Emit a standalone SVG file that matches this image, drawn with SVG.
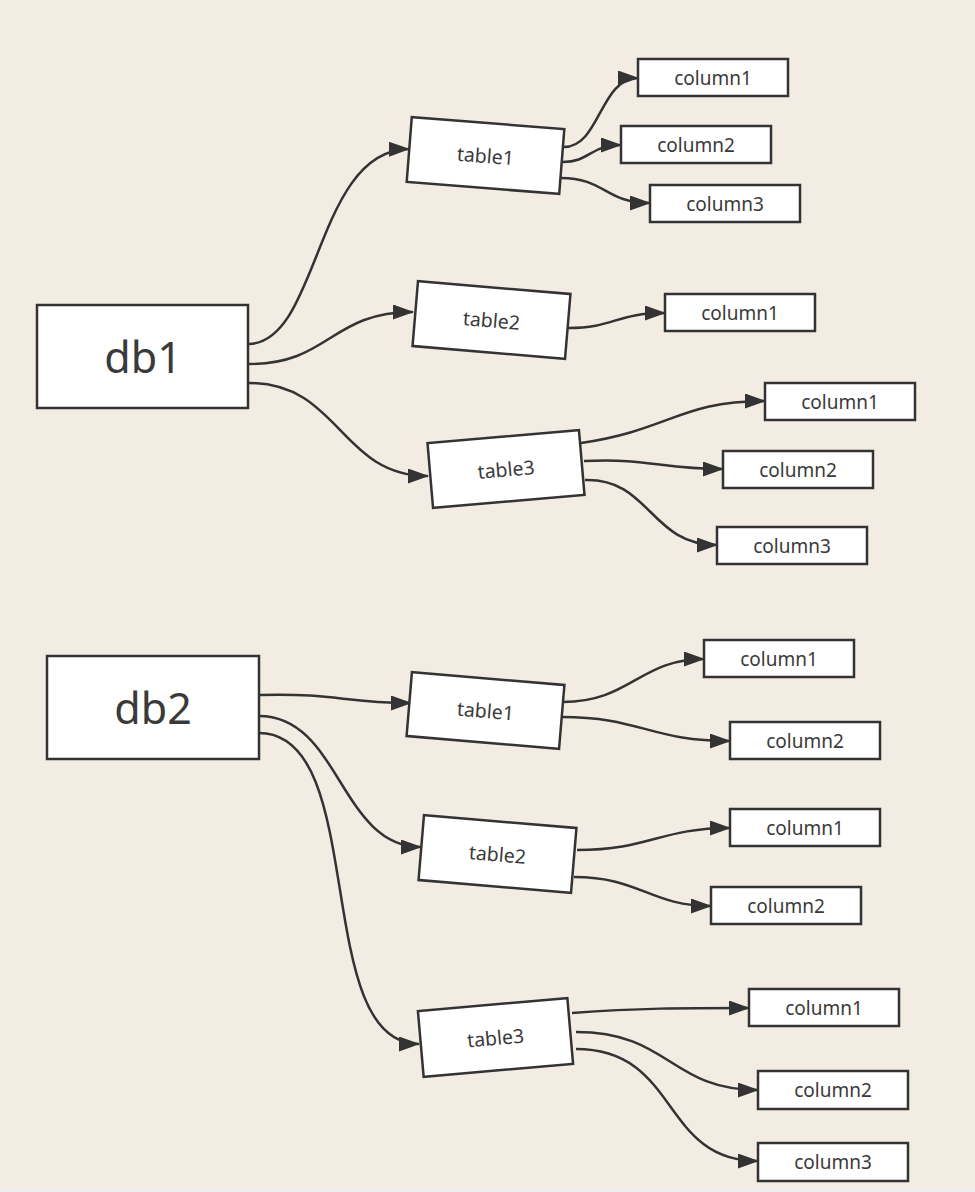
<svg xmlns="http://www.w3.org/2000/svg" width="975" height="1192" viewBox="0 0 975 1192">
<style>
.box{fill:#fff;stroke:#333;stroke-width:2.5}
.t{font-family:"Noto Sans","Open Sans","Liberation Sans",sans-serif;fill:#3a3a3a;text-anchor:middle;dominant-baseline:central}
.c{font-size:19px}
.tb{font-size:19.5px}
.db{font-size:43px}
.e{fill:none;stroke:#333;stroke-width:2.5;marker-end:url(#arr)}
</style>
<defs>
<marker id="arr" markerUnits="userSpaceOnUse" markerWidth="21" markerHeight="15" refX="20" refY="7.5" orient="auto">
<path d="M0,0 L21,7.5 L0,15 Z" fill="#333"/>
</marker>
</defs>
<rect width="975" height="1192" fill="#F3ECE3"/>
<rect x="0" y="1188" width="975" height="4" fill="#EDEEEF"/>
<g id="connectors">
<path class="e" d="M249,344 C320,342 315,150 409,149"/>
<path class="e" d="M249,364 C330,364 330,312 413,312"/>
<path class="e" d="M249,383 C340,383 340,476 428,476"/>
<path class="e" d="M564,147 C600,147 600,78 638,78"/>
<path class="e" d="M563,162 C590,162 590,145 621,145"/>
<path class="e" d="M561,178 C605,178 605,203 650,203"/>
<path class="e" d="M568,328 C615,328 615,313 665,313"/>
<path class="e" d="M581,443 C670,430 680,401 765,401"/>
<path class="e" d="M584,461 C650,458 660,469 723,469"/>
<path class="e" d="M585,480 C650,478 650,545 717,545"/>
<path class="e" d="M259,695 C340,693 340,703 411,703"/>
<path class="e" d="M259,716 C340,716 340,847 421,847"/>
<path class="e" d="M259,733 C370,733 310,1044 419,1044"/>
<path class="e" d="M563,702 C630,702 640,659 704,659"/>
<path class="e" d="M562,717 C640,717 650,741 730,741"/>
<path class="e" d="M577,850 C650,850 660,828 730,828"/>
<path class="e" d="M574,877 C640,877 650,906 711,906"/>
<path class="e" d="M572,1013 C640,1008 680,1008 749,1008"/>
<path class="e" d="M576,1032 C670,1032 670,1090 758,1090"/>
<path class="e" d="M576,1049 C680,1049 660,1161 758,1161"/>
</g>
<g id="db1"><rect class="box" x="37" y="305" width="211" height="103"/><text class="t db" x="143" y="356">db1</text></g>
<g id="db2"><rect class="box" x="47" y="656" width="212" height="103"/><text class="t db" x="153" y="707">db2</text></g>
<g id="db1_table1" transform="translate(485.5,155.5) rotate(4.5)"><rect class="box" x="-76.5" y="-32.5" width="153" height="65"/><text class="t tb" x="0" y="0">table1</text></g>
<g id="db1_table2" transform="translate(491.5,320) rotate(4.8)"><rect class="box" x="-76.5" y="-32.5" width="153" height="65"/><text class="t tb" x="0" y="0">table2</text></g>
<g id="db1_table3" transform="translate(506,469) rotate(-4.9)"><rect class="box" x="-76" y="-32.5" width="152" height="65"/><text class="t tb" x="0" y="0">table3</text></g>
<g id="db2_table1" transform="translate(485.5,710.5) rotate(4.8)"><rect class="box" x="-76.5" y="-32" width="153" height="64"/><text class="t tb" x="0" y="0">table1</text></g>
<g id="db2_table2" transform="translate(497.5,854) rotate(4.8)"><rect class="box" x="-76.5" y="-32.5" width="153" height="65"/><text class="t tb" x="0" y="0">table2</text></g>
<g id="db2_table3" transform="translate(495.5,1037.5) rotate(-5)"><rect class="box" x="-75" y="-33" width="150" height="66"/><text class="t tb" x="0" y="0">table3</text></g>
<g id="db1_t1_c1"><rect class="box" x="638" y="59" width="150" height="37"/><text class="t c" x="713" y="77.5">column1</text></g>
<g id="db1_t1_c2"><rect class="box" x="621" y="126" width="150" height="37"/><text class="t c" x="696" y="144.5">column2</text></g>
<g id="db1_t1_c3"><rect class="box" x="650" y="185" width="150" height="37"/><text class="t c" x="725" y="203.5">column3</text></g>
<g id="db1_t2_c1"><rect class="box" x="665" y="294" width="150" height="37"/><text class="t c" x="740" y="312.5">column1</text></g>
<g id="db1_t3_c1"><rect class="box" x="765" y="383" width="150" height="37"/><text class="t c" x="840" y="401.5">column1</text></g>
<g id="db1_t3_c2"><rect class="box" x="723" y="451" width="150" height="37"/><text class="t c" x="798" y="469.5">column2</text></g>
<g id="db1_t3_c3"><rect class="box" x="717" y="527" width="150" height="37"/><text class="t c" x="792" y="545.5">column3</text></g>
<g id="db2_t1_c1"><rect class="box" x="704" y="640" width="150" height="37"/><text class="t c" x="779" y="658.5">column1</text></g>
<g id="db2_t1_c2"><rect class="box" x="730" y="722" width="150" height="37"/><text class="t c" x="805" y="740.5">column2</text></g>
<g id="db2_t2_c1"><rect class="box" x="730" y="809" width="150" height="37"/><text class="t c" x="805" y="827.5">column1</text></g>
<g id="db2_t2_c2"><rect class="box" x="711" y="887" width="150" height="37"/><text class="t c" x="786" y="905.5">column2</text></g>
<g id="db2_t3_c1"><rect class="box" x="749" y="989" width="150" height="37"/><text class="t c" x="824" y="1007.5">column1</text></g>
<g id="db2_t3_c2"><rect class="box" x="758" y="1071" width="150" height="38"/><text class="t c" x="833" y="1090">column2</text></g>
<g id="db2_t3_c3"><rect class="box" x="758" y="1143" width="150" height="38"/><text class="t c" x="833" y="1162">column3</text></g>
</svg>
